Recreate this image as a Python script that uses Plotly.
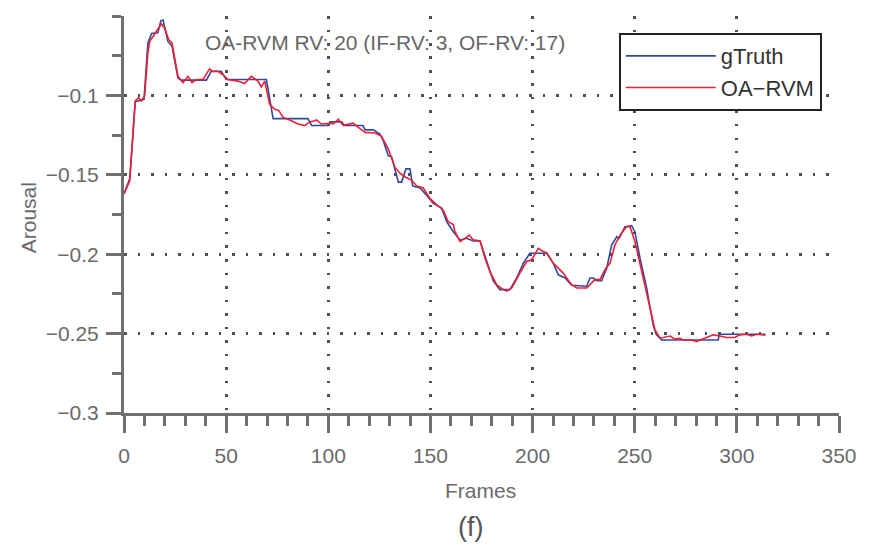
import plotly.graph_objects as go

# ---- data ----
gt_frames = [0, 2.8, 5.5, 9.8, 11.7, 13.5, 16.6, 18, 19.1, 21.5, 23.5, 26.4, 28, 40.3, 42.7, 47.6, 50, 69.7,
             73, 90, 91.9, 100, 100.8, 106.5, 108, 117, 118, 122, 125.3, 126.9, 129.4, 131, 134.3, 135.9,
             138, 140, 141.3, 144.9, 148.2, 151.4, 155.5, 158, 161.2, 164.5, 167.7, 171, 174.3, 177.5,
             180.8, 184, 188.9, 192.2, 195.5, 198.7, 206.9, 210.1, 212.6, 215.9, 219.1, 226.5, 228.1,
             229.7, 231.4, 233.8, 236.3, 238.7, 241.2, 242.4, 245.2, 248.5, 250.1, 252.6, 255.8, 259.1,
             260.5, 263.2, 290.9, 291.4, 314]
gt_values = [-0.162, -0.1525, -0.104, -0.1025, -0.067, -0.061, -0.0606, -0.053, -0.0525, -0.066, -0.069,
             -0.089, -0.0904, -0.0904, -0.0848, -0.0848, -0.09, -0.09, -0.1146, -0.1146, -0.119, -0.119,
             -0.1167, -0.1167, -0.119, -0.119, -0.1217, -0.1217, -0.1244, -0.1285, -0.138, -0.1386,
             -0.1546, -0.1546, -0.1463, -0.1463, -0.157, -0.1583, -0.163, -0.168, -0.171, -0.1796,
             -0.1858, -0.191, -0.19, -0.1917, -0.1917, -0.2046, -0.217, -0.2223, -0.2223, -0.215,
             -0.2056, -0.1994, -0.1994, -0.2056, -0.213, -0.215, -0.2196, -0.2202, -0.215, -0.215,
             -0.2167, -0.2167, -0.2088, -0.1942, -0.189, -0.19, -0.1827, -0.182, -0.186, -0.2025,
             -0.221, -0.245, -0.2505, -0.254, -0.254, -0.2504, -0.2504]

oa_frames = [0, 2.8, 5.5, 7.2, 8.5, 10.1, 11.7, 12.6, 14.7, 16.3, 18.3, 19.9, 21.9, 23.5, 26.4, 28.9, 31.3,
             33.3, 35.4, 38.7, 41.9, 43.6, 46, 48.5, 50.9, 55.8, 59, 62.3, 65.6, 67.2, 68.9, 71.3, 73.8,
             75.7, 78, 80.3, 85.2, 88.4, 91, 93.3, 94.3, 96.6, 100.8, 102.5, 104.9, 107.3, 109.8, 112.2,
             114.7, 118, 122.9, 126.1, 129.4, 131, 132.6, 135.1, 137.5, 140.8, 143.3, 146.5, 149.8, 153,
             156.3, 158.7, 161.2, 162, 164.5, 166.9, 169, 171, 174.3, 176.7, 179.1, 182.4, 184.9, 187.3,
             189.8, 193.8, 197.1, 199.6, 202.8, 205.2, 206.9, 210.1, 212.6, 215, 216.7, 219.1, 221.6,
             226.5, 230.5, 233, 235.4, 237.9, 240.3, 242.8, 246, 247.7, 250.1, 252.6, 255.8, 259.1,
             259.9, 262.4, 264.8, 267.3, 269.7, 272.1, 273.8, 277.9, 280.3, 281.9, 285.2, 288.4, 291.7,
             295, 299, 301.5, 304.8, 307.2, 309.7, 312.9, 314]
oa_values = [-0.162, -0.154, -0.1035, -0.1015, -0.1035, -0.1004, -0.073, -0.066, -0.062, -0.059, -0.055,
             -0.0577, -0.065, -0.067, -0.088, -0.092, -0.088, -0.092, -0.09, -0.09, -0.0833, -0.085,
             -0.0848, -0.087, -0.09, -0.091, -0.0925, -0.088, -0.091, -0.0946, -0.091, -0.1056, -0.1088,
             -0.1094, -0.114, -0.115, -0.118, -0.119, -0.1167, -0.116, -0.1154, -0.118, -0.1175, -0.118,
             -0.115, -0.1188, -0.1181, -0.1175, -0.1202, -0.1233, -0.1237, -0.1258, -0.1338, -0.139,
             -0.1452, -0.149, -0.1512, -0.1535, -0.157, -0.1583, -0.165, -0.1688, -0.1723, -0.1796,
             -0.1813, -0.1858, -0.192, -0.19, -0.188, -0.191, -0.1917, -0.2025, -0.211, -0.2192,
             -0.2217, -0.2233, -0.2213, -0.2119, -0.2046, -0.2035, -0.1963, -0.1983, -0.199, -0.2056,
             -0.2085, -0.2119, -0.215, -0.2192, -0.2213, -0.2213, -0.216, -0.216, -0.2098, -0.2056,
             -0.1942, -0.188, -0.1827, -0.1827, -0.192, -0.2067, -0.2254, -0.244, -0.2475, -0.2529,
             -0.252, -0.2515, -0.2535, -0.253, -0.254, -0.254, -0.255, -0.254, -0.2525, -0.2508,
             -0.2515, -0.2525, -0.2525, -0.2508, -0.2504, -0.2515, -0.2504, -0.2508, -0.251]

x_tickvals = [0, 50, 100, 150, 200, 250, 300, 350]
y_tickvals = [-0.3, -0.25, -0.2, -0.15, -0.1]
y_ticktext = ["\u22120.3", "\u22120.25", "\u22120.2", "\u22120.15", "\u22120.1"]

FONT = "Liberation Sans, Arial, sans-serif"
AX = "#707070"
TXT = "#6a6a6a"
GRID = "#505050"

fig = go.Figure()
fig.add_trace(go.Scatter(x=gt_frames, y=gt_values, mode="lines", name="gTruth",
                         line=dict(color="#3147a6", width=1.6)))
fig.add_trace(go.Scatter(x=oa_frames, y=oa_values, mode="lines", name="OA\u2212RVM",
                         line=dict(color="#ee2030", width=1.6)))

fig.update_layout(
    width=872, height=548,
    margin=dict(l=124, r=33, t=16, b=135),
    paper_bgcolor="white", plot_bgcolor="white",
    font=dict(family=FONT, color=TXT, size=21),
    showlegend=True,
    legend=dict(x=0.692, y=0.957, xanchor="left", yanchor="top",
                bgcolor="white", bordercolor="#222", borderwidth=2,
                font=dict(family=FONT, size=22, color="#333"),
                itemwidth=90, tracegroupgap=0),
    xaxis=dict(range=[0, 350], tickvals=x_tickvals, showline=True, linecolor=AX, linewidth=3,
               ticks="outside", ticklen=17, tickwidth=3, tickcolor=AX, ticklabelstandoff=5,
               showgrid=True, gridcolor=GRID, gridwidth=2.5, griddash="2.5px,11px",
               zeroline=False, tickfont=dict(size=21, color=TXT),
               minor=dict(dtick=10, tick0=0, ticks="outside", ticklen=10, tickwidth=3,
                          tickcolor=AX, showgrid=False)),
    yaxis=dict(range=[-0.3, -0.05], tickvals=y_tickvals, ticktext=y_ticktext,
               showline=True, linecolor=AX, linewidth=3,
               ticks="outside", ticklen=15, tickwidth=3, tickcolor=AX, ticklabelstandoff=3,
               showgrid=True, gridcolor=GRID, gridwidth=2.5, griddash="2.5px,11px",
               zeroline=False, tickfont=dict(size=21, color=TXT),
               minor=dict(dtick=0.025, tick0=-0.3, ticks="outside", ticklen=9, tickwidth=3,
                          tickcolor=AX, showgrid=False)),
    annotations=[
        dict(text="OA-RVM RV: 20 (IF-RV: 3, OF-RV: 17)", xref="paper", yref="paper",
             x=0.365, y=0.9345, xanchor="center", yanchor="middle", showarrow=False,
             font=dict(size=21, color="#666")),
        dict(text="Frames", xref="paper", yref="paper", x=0.499, y=-0.194,
             xanchor="center", yanchor="middle", showarrow=False, font=dict(size=21, color=TXT)),
        dict(text="(f)", xref="paper", yref="paper", x=0.484, y=-0.287,
             xanchor="center", yanchor="middle", showarrow=False, font=dict(size=27, color="#555")),
        dict(text="Arousal", xref="paper", yref="paper", x=-0.134, y=0.491, textangle=-90,
             xanchor="center", yanchor="middle", showarrow=False, font=dict(size=21, color=TXT)),
    ],
)

fig.write_html("out.html")
